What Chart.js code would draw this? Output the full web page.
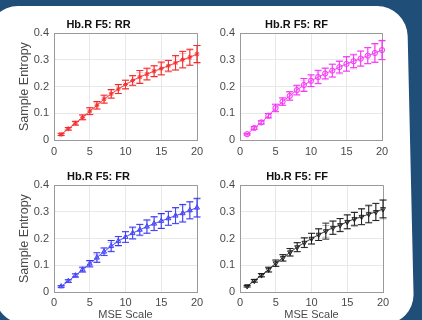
<!DOCTYPE html>
<html>
<head>
<meta charset="utf-8">
<script src="https://cdn.jsdelivr.net/npm/chart.js@4.4.1/dist/chart.umd.min.js"></script>
<style>
  html, body { margin:0; padding:0; }
  body { width:422px; height:320px; overflow:hidden; background:#1f4e79; position:relative; }
  #panel { position:absolute; left:-12px; top:6px; width:419px; height:318px; background:#fff;
           border-radius:30px; transform-origin:0 0; transform:skewX(1.3deg); }
  canvas { position:absolute; }
</style>
</head>
<body>
<div id="panel"></div>
<canvas id="cRR" width="211" height="160" style="left:0;top:0"></canvas>
<canvas id="cRF" width="211" height="160" style="left:211px;top:0"></canvas>
<canvas id="cFR" width="211" height="170" style="left:0;top:160px"></canvas>
<canvas id="cFF" width="211" height="170" style="left:211px;top:160px"></canvas>
<script>
// ---------- data ----------
const mseScales = [1,2,3,4,5,6,7,8,9,10,11,12,13,14,15,16,17,18,19,20];
const xTickLabels = ['0','5','10','15','20'];
const yTickLabels = ['0','0.1','0.2','0.3','0.4'];
const panelTitles = ['Hb.R F5: RR','Hb.R F5: RF','Hb.R F5: FR','Hb.R F5: FF'];

const rrMeanA = [0.021,0.042,0.063,0.085,0.108,0.130,0.153,0.173,0.191,0.208,0.223,0.236,0.247,0.258,0.268,0.278,0.289,0.301,0.310,0.322];
const rrErrA  = [0.004,0.005,0.007,0.009,0.013,0.014,0.015,0.016,0.017,0.016,0.018,0.024,0.022,0.020,0.024,0.020,0.027,0.031,0.030,0.032];
const rrMeanB = [0.020,0.041,0.061,0.083,0.106,0.128,0.152,0.171,0.190,0.206,0.221,0.234,0.246,0.256,0.266,0.276,0.287,0.298,0.308,0.320];
const rrErrB  = [0.004,0.004,0.006,0.008,0.010,0.012,0.013,0.015,0.016,0.017,0.018,0.018,0.020,0.021,0.022,0.022,0.024,0.026,0.028,0.034];

const rfMeanA = [0.022,0.045,0.066,0.091,0.120,0.144,0.165,0.187,0.206,0.222,0.236,0.249,0.260,0.273,0.285,0.295,0.305,0.316,0.326,0.337];
const rfErrA  = [0.003,0.005,0.006,0.008,0.014,0.014,0.016,0.018,0.024,0.022,0.025,0.020,0.024,0.022,0.027,0.024,0.028,0.030,0.035,0.036];
const rfMeanB = [0.021,0.044,0.065,0.090,0.118,0.142,0.164,0.185,0.204,0.220,0.234,0.248,0.259,0.272,0.283,0.294,0.304,0.315,0.325,0.335];
const rfErrB  = [0.003,0.004,0.006,0.008,0.010,0.012,0.014,0.016,0.018,0.020,0.021,0.022,0.024,0.025,0.026,0.028,0.029,0.030,0.032,0.034];

const frMeanA = [0.021,0.041,0.062,0.084,0.106,0.129,0.151,0.172,0.191,0.206,0.221,0.233,0.245,0.256,0.266,0.276,0.286,0.295,0.306,0.316];
const frErrA  = [0.003,0.005,0.006,0.009,0.012,0.018,0.014,0.021,0.017,0.020,0.022,0.020,0.025,0.026,0.028,0.026,0.030,0.033,0.032,0.035];
const frMeanB = [0.020,0.040,0.061,0.082,0.105,0.127,0.150,0.170,0.189,0.205,0.219,0.232,0.244,0.255,0.265,0.275,0.285,0.294,0.305,0.314];
const frErrB  = [0.003,0.004,0.006,0.008,0.010,0.012,0.014,0.016,0.018,0.020,0.021,0.022,0.023,0.024,0.025,0.026,0.027,0.029,0.031,0.033];

const ffMeanA = [0.022,0.042,0.063,0.084,0.108,0.128,0.149,0.168,0.185,0.200,0.215,0.228,0.241,0.251,0.263,0.274,0.282,0.292,0.300,0.311];
const ffErrA  = [0.003,0.005,0.006,0.009,0.012,0.012,0.014,0.017,0.018,0.020,0.022,0.030,0.025,0.024,0.026,0.024,0.030,0.033,0.032,0.033];
const ffMeanB = [0.021,0.041,0.062,0.083,0.106,0.127,0.148,0.167,0.184,0.199,0.214,0.227,0.240,0.250,0.262,0.272,0.281,0.291,0.299,0.310];
const ffErrB  = [0.003,0.004,0.006,0.008,0.010,0.012,0.014,0.016,0.018,0.020,0.021,0.022,0.024,0.025,0.026,0.027,0.028,0.030,0.032,0.036];

// ---------- helpers ----------
const FONT = "'Liberation Sans', Arial, Helvetica, sans-serif";
const GRID = '#e8e8e8';
const BOX = '#9a9a9a';
const TXT = '#4a4a4a';

const errBarPlugin = {
  id: 'errBars',
  beforeDatasetDraw(chart, args) {
    const ds = chart.data.datasets[args.index];
    if (!ds.errors) return;
    const {ctx} = chart;
    const x = chart.scales.x, y = chart.scales.y;
    const cap = 3.5;
    ctx.save();
    ctx.strokeStyle = ds.borderColor;
    ctx.lineWidth = 1;
    ds.data.forEach((p, i) => {
      const e = ds.errors[i];
      const px = x.getPixelForValue(p.x);
      const t = y.getPixelForValue(p.y + e);
      const b = y.getPixelForValue(p.y - e);
      ctx.beginPath();
      ctx.moveTo(px, t); ctx.lineTo(px, b);
      ctx.moveTo(px - cap, t); ctx.lineTo(px + cap, t);
      ctx.moveTo(px - cap, b); ctx.lineTo(px + cap, b);
      ctx.stroke();
    });
    ctx.restore();
  }
};

function pts(arr) { return mseScales.map((s, i) => ({x: s, y: arr[i]})); }

function series(mean, err, color, style, rot, radius) {
  return {
    data: pts(mean), errors: err,
    borderColor: color, backgroundColor: 'rgba(0,0,0,0)',
    pointBorderColor: color, pointBackgroundColor: 'rgba(0,0,0,0)',
    pointStyle: style, rotation: rot, pointRadius: radius, pointBorderWidth: 0.9,
    borderWidth: 0.8, showLine: true, clip: false, tension: 0
  };
}

function makeChart(id, title, dsA, dsB, cfg) {
  new Chart(document.getElementById(id), {
    type: 'scatter',
    data: { datasets: [dsB, dsA] },
    plugins: [errBarPlugin],
    options: {
      responsive: false, animation: false, events: [],
      layout: { padding: { left: 0, right: cfg.padRight, top: 0, bottom: 0 } },
      plugins: {
        legend: { display: false }, tooltip: { enabled: false },
        title: { display: true, text: title, color: '#111',
                 font: { family: FONT, size: 11, weight: 'bold' },
                 padding: { top: cfg.titleTop, bottom: 2 } }
      },
      scales: {
        x: {
          type: 'linear', min: 0, max: 20,
          afterFit: s => { s.height = cfg.xHeight; },
          ticks: { stepSize: 5, padding: cfg.xTickPad, color: TXT, maxRotation: 0,
                   font: { family: FONT, size: 11 },
                   callback: v => xTickLabels[Math.round(v / 5)] },
          grid: { drawTicks: false, color: c => (c.tick && c.tick.value === 20) ? BOX : GRID, lineWidth: 1 },
          border: { color: BOX, width: 1 },
          title: { display: cfg.xTitle, text: 'MSE Scale', color: TXT,
                   font: { family: FONT, size: 11 }, padding: { top: 0, bottom: 8.4 } }
        },
        y: {
          type: 'linear', min: 0, max: 0.4,
          afterFit: s => { s.width = cfg.yWidth; },
          ticks: { stepSize: 0.1, padding: 5, color: TXT,
                   font: { family: FONT, size: 11 },
                   callback: v => yTickLabels[Math.round(v * 10)] },
          grid: { drawTicks: false, color: c => (c.tick && Math.abs(c.tick.value - 0.4) < 1e-9) ? BOX : GRID, lineWidth: 1 },
          border: { color: BOX, width: 1 },
          title: { display: cfg.yTitle, text: 'Sample Entropy', color: TXT,
                   font: { family: FONT, size: 12.5 }, padding: { top: 17.5, bottom: 0 } }
        }
      }
    }
  });
}

const topLeft  = { padRight: 14, titleTop: 18, xHeight: 20, xTickPad: 5, yWidth: 54, xTitle: false, yTitle: true };
const topRight = { padRight: 40, titleTop: 18, xHeight: 20, xTickPad: 5, yWidth: 29, xTitle: false, yTitle: false };
const botLeft  = { padRight: 14, titleTop: 10, xHeight: 38, xTickPad: 4, yWidth: 54, xTitle: true, yTitle: true };
const botRight = { padRight: 39, titleTop: 10, xHeight: 38, xTickPad: 4, yWidth: 29, xTitle: true, yTitle: false };

makeChart('cRR', panelTitles[0],
  series(rrMeanA, rrErrA, '#f01c1c', 'star', 0, 2.4),
  series(rrMeanB, rrErrB, 'rgba(255,70,70,0.35)', 'crossRot', 0, 2.4), topLeft);
makeChart('cRF', panelTitles[1],
  series(rfMeanA, rfErrA, '#f028f0', 'circle', 0, 2.6),
  series(rfMeanB, rfErrB, 'rgba(255,70,255,0.35)', 'circle', 0, 2.6), topRight);
makeChart('cFR', panelTitles[2],
  series(frMeanA, frErrA, '#3030f0', 'triangle', 0, 2.8),
  series(frMeanB, frErrB, 'rgba(90,90,255,0.35)', 'triangle', 0, 2.8), botLeft);
makeChart('cFF', panelTitles[3],
  series(ffMeanA, ffErrA, '#2a2a2a', 'triangle', 180, 2.8),
  series(ffMeanB, ffErrB, 'rgba(0,0,0,0.28)', 'triangle', 180, 2.8), botRight);
</script>
</body>
</html>
